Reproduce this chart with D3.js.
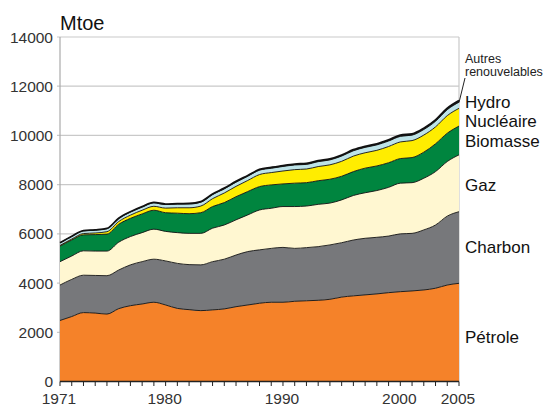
<!DOCTYPE html>
<html><head><meta charset="utf-8">
<script src="https://cdn.jsdelivr.net/npm/d3@7"></script>
<style>
html,body{margin:0;padding:0;background:#fff;}
svg{display:block;font-family:Arial,"Liberation Sans",sans-serif;}
</style></head>
<body>
<svg id="chart" width="548" height="407"></svg>
<script>
const years = d3.range(1971, 2006);
const petrole   = [2480,2640,2800,2780,2740,2960,3080,3150,3220,3110,2970,2920,2880,2910,2950,3040,3110,3180,3220,3220,3260,3280,3300,3340,3430,3480,3520,3560,3610,3650,3680,3720,3790,3920,3990];
const charbon   = [1440,1510,1520,1530,1560,1570,1660,1720,1750,1790,1830,1830,1860,1960,2020,2100,2170,2170,2190,2230,2150,2160,2180,2210,2210,2270,2300,2300,2300,2350,2340,2440,2570,2800,2910];
const gaz       = [950,950,990,990,1000,1130,1150,1180,1220,1200,1250,1270,1280,1360,1390,1430,1490,1620,1630,1660,1700,1690,1720,1700,1740,1810,1850,1900,1980,2060,2060,2100,2170,2220,2310];
const biomasse  = [630,650,650,670,690,730,740,760,770,760,790,800,840,880,910,940,950,950,950,920,950,950,960,970,960,970,1000,1000,1000,1000,1020,1060,1130,1150,1170];
const nucleaire = [29,38,53,65,98,110,130,150,160,186,220,240,270,320,390,420,450,490,500,525,550,555,575,585,608,630,625,635,660,676,690,695,688,715,721];
const hydro     = [104,108,110,118,123,124,128,136,141,147,150,153,160,165,170,172,172,177,176,184,189,188,199,200,213,216,219,220,222,225,222,225,227,241,251];
const autres    = [6,7,8,9,10,11,12,14,16,18,20,22,24,26,28,30,32,33,35,37,38,39,40,41,42,44,46,47,48,50,52,55,58,62,66];

const seriesNames = ["Pétrole","Charbon","Gaz","Biomasse","Nucléaire","Hydro","Autres renouvelables"];
const seriesValues = [petrole, charbon, gaz, biomasse, nucleaire, hydro, autres];
const seriesColors = ["#F58229","#77787B","#FFF7D1","#00853F","#FFED00","#BDE3E8","#222222"];
const yTicks = [0,2000,4000,6000,8000,10000,12000,14000];
const xTickLabels = [1971,1980,1990,2000,2005];

const table = years.map((y,i)=>{
  const row = {year:y};
  seriesNames.forEach((n,k)=>row[n]=seriesValues[k][i]);
  return row;
});

const svg = d3.select("#chart");
const x = d3.scaleLinear().domain([1971,2005]).range([60,459]);
const y = d3.scaleLinear().domain([0,14000]).range([381.5,37]);

// grid
svg.append("g").selectAll("line").data(yTicks.filter(d=>d>0)).join("line")
  .attr("x1",57).attr("x2",459).attr("y1",d=>y(d)).attr("y2",d=>y(d))
  .attr("stroke","#c9c9c9").attr("stroke-width",1.2);
svg.append("line").attr("x1",459).attr("x2",459).attr("y1",y(14000)).attr("y2",y(0))
  .attr("stroke","#c9c9c9").attr("stroke-width",1.2);
svg.append("line").attr("x1",60).attr("x2",60).attr("y1",y(14000)).attr("y2",y(0))
  .attr("stroke","#aaaaaa").attr("stroke-width",1.2);

const stack = d3.stack().keys(seriesNames);
const layers = stack(table);
const area = d3.area().x(d=>x(d.data.year)).y0(d=>y(d[0])).y1(d=>y(d[1])).curve(d3.curveMonotoneX);
const line = d3.line().x(d=>x(d.data.year)).y(d=>y(d[1])).curve(d3.curveMonotoneX);

svg.append("g").selectAll("path").data(layers).join("path")
  .attr("d",area).attr("fill",(d,i)=>seriesColors[i]);
svg.append("g").selectAll("path").data(layers).join("path")
  .attr("d",line).attr("fill","none").attr("stroke","#111")
  .attr("stroke-width",(d,i)=>i===6?1.8:0.9);

// y axis labels
svg.append("g").selectAll("text").data(yTicks).join("text")
  .attr("x",53).attr("y",d=>y(d)+5.5).attr("text-anchor","end")
  .attr("font-size",15.5).attr("fill","#333").text(d=>d);

// x axis
svg.append("line").attr("x1",60).attr("x2",459).attr("y1",y(0)).attr("y2",y(0))
  .attr("stroke","#222").attr("stroke-width",1.3);
svg.append("g").selectAll("line").data(years).join("line")
  .attr("x1",d=>x(d)).attr("x2",d=>x(d)).attr("y1",y(0)).attr("y2",y(0)+4.5)
  .attr("stroke","#222").attr("stroke-width",1);
svg.append("g").selectAll("text").data(xTickLabels).join("text")
  .attr("x",d=>x(d)-1).attr("y",404).attr("text-anchor","middle")
  .attr("font-size",15.5).attr("fill","#333").text(d=>d);

// unit
svg.append("text").attr("x",60).attr("y",30).attr("font-size",20).attr("fill","#111").text("Mtoe");

// right labels
const labelPos = [
  ["Pétrole",342.7],["Charbon",252.7],["Gaz",190.5],["Biomasse",146.7],["Nucléaire",126.5],["Hydro",107.8]
];
svg.append("g").selectAll("text").data(labelPos).join("text")
  .attr("x",465).attr("y",d=>d[1]).attr("font-size",17).attr("fill","#111").text(d=>d[0]);
const au = svg.append("text").attr("x",465).attr("font-size",12.5).attr("fill","#222");
au.append("tspan").attr("x",465).attr("y",63).text("Autres");
au.append("tspan").attr("x",465).attr("y",76).text("renouvelables");
svg.append("line").attr("x1",459).attr("y1",y(d3.sum(seriesValues,s=>s[34]))+2).attr("x2",465).attr("y2",78)
  .attr("stroke","#222").attr("stroke-width",1);
</script>
</body></html>
